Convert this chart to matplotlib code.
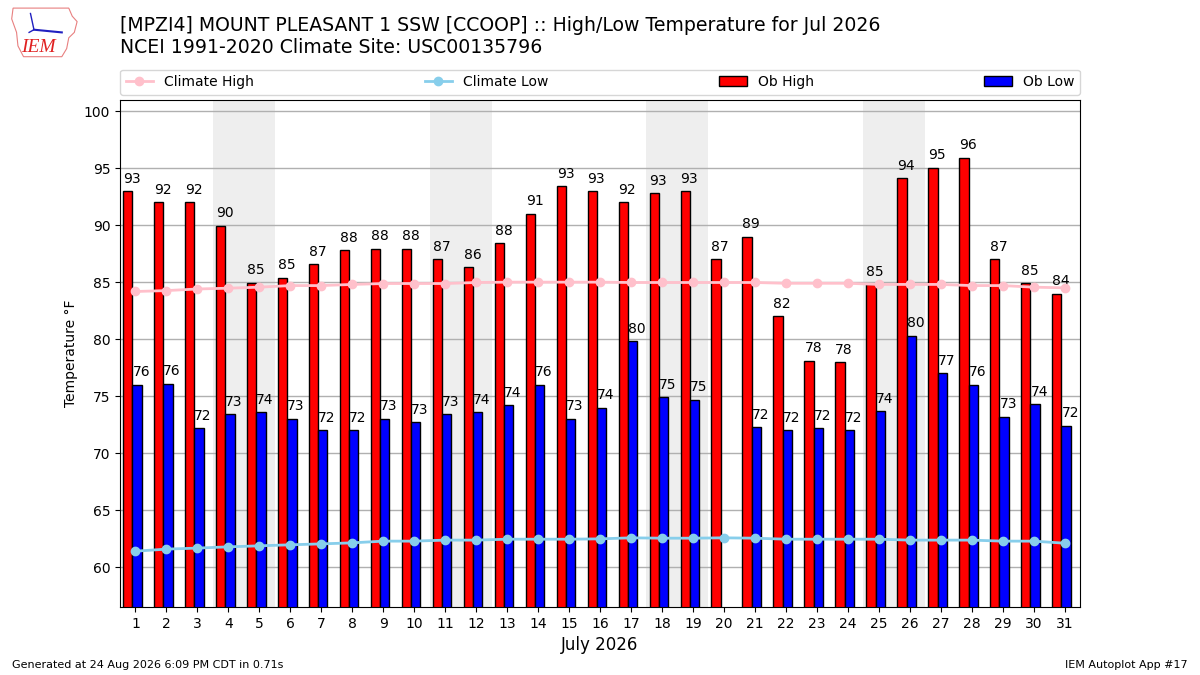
import numpy as np
import matplotlib
matplotlib.use("Agg")
import matplotlib.pyplot as plt
from matplotlib.patches import Polygon

# July 2026 daily data
days = np.arange(1, 32)
ob_high = [92.96, 92.0, 92.0, 89.94, 84.94, 85.4, 86.55, 87.78, 87.95, 87.95,
           86.99, 86.3, 88.4, 91.0, 93.4, 92.96, 92.0, 92.8, 92.96, 86.99,
           89.0, 82.0, 78.07, 77.96, 84.8, 94.1, 95.03, 95.9, 86.99, 84.9, 84.0]
ob_low = [76.0, 76.1, 72.17, 73.4, 73.57, 72.98, 72.0, 72.0, 73.0, 72.7,
          73.4, 73.57, 74.18, 76.0, 73.0, 74.0, 79.8, 74.9, 74.7, np.nan,
          72.25, 72.0, 72.17, 72.0, 73.66, 80.3, 76.99, 76.0, 73.2, 74.27, 72.4]
clim_high = [84.18, 84.26, 84.4, 84.47, 84.56, 84.7, 84.7, 84.8, 84.88, 84.88,
             84.88, 84.97, 85.0, 85.0, 85.0, 85.0, 84.97, 84.97, 84.97, 84.97,
             84.97, 84.9, 84.9, 84.9, 84.8, 84.8, 84.8, 84.7, 84.7, 84.56, 84.5]
clim_low = [61.4, 61.58, 61.67, 61.78, 61.87, 61.96, 62.04, 62.13, 62.28, 62.28,
            62.37, 62.37, 62.45, 62.45, 62.45, 62.48, 62.57, 62.54, 62.54, 62.57,
            62.54, 62.45, 62.45, 62.45, 62.45, 62.37, 62.37, 62.37, 62.28, 62.28, 62.1]
weekends = [4, 5, 11, 12, 18, 19, 25, 26]

title = ("[MPZI4] MOUNT PLEASANT 1 SSW [CCOOP] :: High/Low Temperature for Jul 2026\n"
         "NCEI 1991-2020 Climate Site: USC00135796")

fig = plt.figure(figsize=(12, 6.75), dpi=100)
ax = fig.add_axes([0.1, 0.1007, 0.8, 0.7515])

for d in weekends:
    ax.axvspan(d - 0.5, d + 0.5, color="#eeeeee", zorder=0, lw=0)

b1 = ax.bar(days - 0.4, ob_high, width=0.3, align="edge", color="r",
            edgecolor="k", lw=1, label="Ob High", zorder=2)
b2 = ax.bar(days - 0.1, ob_low, width=0.3, align="edge", color="b",
            edgecolor="k", lw=1, label="Ob Low", zorder=2)

for d, h, l in zip(days, ob_high, ob_low):
    if not np.isnan(h):
        ax.text(d - 0.4, h + 0.5, "%.0f" % h, ha="left", va="bottom", fontsize=10)
    if not np.isnan(l):
        ax.text(d - 0.1, l + 0.5, "%.0f" % l, ha="left", va="bottom", fontsize=10)

l1, = ax.plot(days, clim_high, color="pink", marker="o", ms=6, lw=2,
              label="Climate High", zorder=3)
l2, = ax.plot(days, clim_low, color="skyblue", marker="o", ms=6, lw=2,
              label="Climate Low", zorder=3)

ax.set_xlim(0.5, 31.5)
ax.set_ylim(56.5, 101)
ax.set_xticks(days)
ax.set_yticks(np.arange(60, 101, 5))
ax.grid(axis="y", color="#b0b0b0", lw=1)
ax.set_axisbelow(True)
ax.set_ylabel("Temperature °F")
ax.set_xlabel("July 2026", fontsize=12)

ax.legend(handles=[l1, l2, b1, b2], loc="lower left", ncol=4, mode="expand",
          bbox_to_anchor=(0, 1.01, 1, 0.05), borderaxespad=0)

fig.text(0.1, 0.976, title, fontsize=13.6, va="top", ha="left")
fig.text(0.01, 0.01, "Generated at 24 Aug 2026 6:09 PM CDT in 0.71s", fontsize=8)
fig.text(0.99, 0.01, "IEM Autoplot App #17", fontsize=8, ha="right")

# rough logo
lax = fig.add_axes([0.008, 0.912, 0.058, 0.08])
lax.set_xlim(0, 1)
lax.set_ylim(0, 1)
lax.axis("off")
iowa = [(0.05, 0.95), (0.85, 0.95), (0.9, 0.8), (0.97, 0.7), (0.93, 0.5),
        (0.85, 0.4), (0.82, 0.2), (0.75, 0.05), (0.2, 0.05), (0.12, 0.25),
        (0.1, 0.5), (0.03, 0.75)]
lax.add_patch(Polygon(iowa, closed=True, fill=False, edgecolor="#e88080", lw=0.8))
lax.plot([0.35, 0.75], [0.55, 0.5], color="#2020c0", lw=1.5)
lax.plot([0.3, 0.35, 0.28], [0.85, 0.55, 0.5], color="#2020c0", lw=1)
lax.text(0.42, 0.22, "IEM", color="#e02020", fontsize=14, ha="center", va="center",
         family="Liberation Serif", style="italic")

fig.savefig("out.png", dpi=100)
